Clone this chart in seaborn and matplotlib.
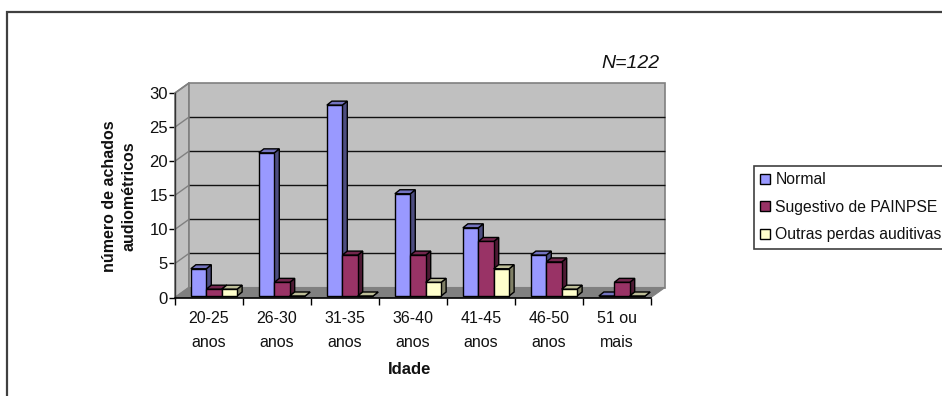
import matplotlib
matplotlib.use('Agg')
import matplotlib.pyplot as plt
import seaborn as sns
import pandas as pd
from matplotlib.patches import Polygon, Rectangle
from matplotlib.transforms import Affine2D

categorias = ['20-25\nanos', '26-30\nanos', '31-35\nanos', '36-40\nanos',
              '41-45\nanos', '46-50\nanos', '51 ou\nmais']
normal = [4, 21, 28, 15, 10, 6, 0]
sugestivo = [1, 2, 6, 6, 8, 5, 2]
outras = [1, 0, 0, 2, 4, 1, 0]
series = ['Normal', 'Sugestivo de PAINPSE', 'Outras perdas auditivas']
cores = ['#9999ff', '#993366', '#ffffcc']
cores_lado = ['#4d4d80', '#4d1a33', '#808066']
cores_topo = ['#7373bf', '#73264d', '#bfbf99']
yticks = [0, 5, 10, 15, 20, 25, 30]

W, H = 942, 396
DEPTH = (14, 10)      # profundidade da parede, em pixels
BAR_SHIFT = (5, 1.5)  # deslocamento das barras dentro do chao
BAR_DEPTH = (5, 4)    # profundidade de cada barra

sns.set_theme(style='white')
plt.rcParams['font.family'] = ['Liberation Sans', 'DejaVu Sans']

df = pd.DataFrame({'cat': categorias * 3,
                   'valor': normal + sugestivo + outras,
                   'serie': sum([[s] * len(categorias) for s in series], [])})

fig = plt.figure(figsize=(W / 100, H / 100), dpi=100, facecolor='white')
# o eixo ocupa o plano frontal do grafico "3D"
ax = fig.add_axes([175 / W, 1 - 297.5 / H, 476 / W, 204.5 / H])

sns.barplot(data=df, x='cat', y='valor', hue='serie', hue_order=series,
            palette=cores, width=0.68, gap=0, saturation=1, legend=False,
            edgecolor='black', linewidth=1, ax=ax, zorder=5)
ax.set_xlim(-0.5, 6.5)
ax.set_ylim(0, 30)
ax.patch.set_visible(False)


def poligono(pts, **kw):
    # pts em pixels relativos ao canto (0, 0) dos dados
    x0, y0 = ax.transData.transform((-0.5, 0))
    return Polygon([(x0 + a, y0 + b) for a, b in pts], transform=None, **kw)


# paredes e chao
w = ax.transData.transform((6.5, 0))[0] - ax.transData.transform((-0.5, 0))[0]
h = ax.transData.transform((0, 30))[1] - ax.transData.transform((0, 0))[1]
dx, dy = DEPTH
ax.add_patch(poligono([(0, 0), (dx, dy), (dx, h + dy), (0, h)],
                      fc='#c0c0c0', ec='#808080', lw=1.2, zorder=1, clip_on=False))
ax.add_patch(poligono([(dx, dy), (w + dx, dy), (w + dx, h + dy), (dx, h + dy)],
                      fc='#c0c0c0', ec='#808080', lw=1.2, zorder=1, clip_on=False))
ax.add_patch(poligono([(0, 0), (w, 0), (w + dx, dy), (dx, dy)],
                      fc='#808080', ec='#808080', lw=0.8, zorder=1.5, clip_on=False))

# grades na parede de fundo e na parede lateral
desloc = ax.transData + Affine2D().translate(dx, dy)
ax.hlines(yticks[1:-1], -0.5, 6.5, colors='#111111', lw=1, transform=desloc,
          zorder=2, clip_on=False)
y0_px = ax.transData.transform((0, 0))[1]
x0_px = ax.transData.transform((-0.5, 0))[0]
for v in yticks[1:]:
    yp = ax.transData.transform((0, v))[1] - y0_px
    ax.plot([x0_px, x0_px + dx], [y0_px + yp, y0_px + yp + dy], color='#808080',
            lw=1, transform=None, zorder=2, clip_on=False)

# barras com lados e topo
desloc_barra = Affine2D().translate(*BAR_SHIFT)
sx, sy = BAR_DEPTH
for i, bar in enumerate(ax.patches[:21]):
    s = i // len(categorias)
    (xa, ya), (xb, yb) = ax.transData.transform(
        [(bar.get_x(), bar.get_y()), (bar.get_x() + bar.get_width(), bar.get_height())])
    xa, xb = xa + BAR_SHIFT[0], xb + BAR_SHIFT[0]
    ya, yb = ya + BAR_SHIFT[1], yb + BAR_SHIFT[1]
    bar.set_transform(ax.transData + desloc_barra)
    bar.set_clip_on(False)
    # a serie da direita fica na frente da lateral da anterior
    z = 5 + s * 0.1
    bar.set_zorder(z + 0.01)
    ax.add_patch(Polygon([(xb, ya), (xb + sx, ya + sy), (xb + sx, yb + sy), (xb, yb)],
                         transform=None, fc=cores_lado[s], ec='black', lw=1,
                         zorder=z, clip_on=False))
    ax.add_patch(Polygon([(xa, yb), (xa + sx, yb + sy), (xb + sx, yb + sy), (xb, yb)],
                         transform=None, fc=cores_topo[s], ec='black', lw=1,
                         zorder=z, clip_on=False))

# eixos
sns.despine(ax=ax, top=True, right=True)
ax.spines['left'].set_color('#333333')
ax.spines['left'].set_linewidth(1)
ax.spines['bottom'].set_color('black')
ax.spines['bottom'].set_linewidth(1.2)
ax.spines['left'].set_zorder(3)
ax.spines['bottom'].set_zorder(3)
ax.set_yticks(yticks)
ax.tick_params(axis='y', left=True, length=4, width=1, color='black', pad=1,
               labelsize=12, labelcolor='#111111')
ax.set_xticks(range(len(categorias)))
ax.set_xticklabels(categorias, linespacing=1.7)
ax.set_xticks([k - 0.5 for k in range(len(categorias) + 1)], minor=True)
ax.tick_params(axis='x', which='major', bottom=False, pad=4, labelsize=11.5,
               labelcolor='#111111')
ax.tick_params(axis='x', which='minor', bottom=True, length=5, width=1, color='black')
ax.set_xlabel('')
ax.set_ylabel('')

fig.text(119.5 / W, 1 - 196 / H, 'número de achados\naudiométricos', rotation=90,
         ha='center', va='center', fontsize=11.5, fontweight='bold', linespacing=1.35,
         color='#111111')
fig.text(410 / W, 1 - 369 / H, 'Idade', ha='center', va='center', fontsize=12,
         fontweight='bold', color='#111111')
fig.text(660 / W, 1 - 63 / H, 'N=122', ha='right', va='center', fontsize=14,
         style='italic', color='#111111')

# moldura externa, cortada nas bordas da imagem
fig.add_artist(Rectangle((7 / W, -0.1), 1.1, 1.1 - 12 / H, transform=fig.transFigure,
                         fc='none', ec='#404040', lw=1.6))

# legenda
handles = [Rectangle((0, 0), 1, 1, fc=c, ec='black', lw=1) for c in cores]
leg = ax.legend(handles, series, loc='upper left',
                bbox_to_anchor=(754 / W, 1 - 166 / H), bbox_transform=fig.transFigure,
                fancybox=False, framealpha=1, edgecolor='#404040', fontsize=11.3,
                handlelength=0.6, handleheight=0.6, handletextpad=0.36,
                labelspacing=0.8, borderpad=0.4, borderaxespad=0, labelcolor='#111111')
leg.get_frame().set_linewidth(1.2)

fig.savefig('out.png', dpi=100)
